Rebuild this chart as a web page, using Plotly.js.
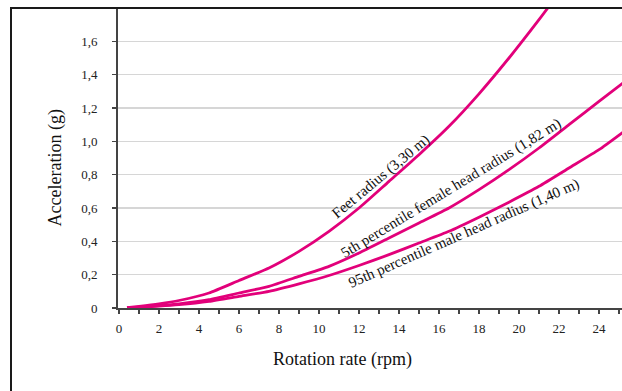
<!DOCTYPE html>
<html>
<head>
<meta charset="utf-8">
<script src="https://cdn.plot.ly/plotly-3.0.1.min.js"></script>
<style>html,body{margin:0;padding:0;background:#fff;}#chart{width:622px;height:391px;}</style>
</head>
<body>
<div id="chart"></div>
<script>
// Data
const rpmFeet = [0.4, 1, 2, 3, 4.5, 6, 7.5, 9, 10.5, 12, 13.5, 15, 16.5, 18, 19.5, 21, 21.5];
const accFeet = [0.002, 0.01, 0.025, 0.045, 0.09, 0.165, 0.24, 0.34, 0.46, 0.60, 0.76, 0.92, 1.09, 1.285, 1.50, 1.73, 1.81];

const rpmHead = [0.4, 1, 2, 3, 4.5, 6, 7.5, 9, 10.5, 12, 13.5, 15, 16.5, 18, 19.5, 21, 22.5, 24, 25.2];
const accFemale = [0.001, 0.005, 0.014, 0.025, 0.05, 0.09, 0.13, 0.19, 0.25, 0.33, 0.42, 0.51, 0.60, 0.71, 0.83, 0.96, 1.10, 1.24, 1.35];
const accMale = [0.001, 0.004, 0.011, 0.02, 0.04, 0.07, 0.10, 0.145, 0.195, 0.255, 0.32, 0.39, 0.46, 0.545, 0.635, 0.73, 0.84, 0.95, 1.055];

const seriesLabels = ['Feet radius (3,30 m)', '5th percentile female head radius (1,82 m)', '95th percentile male head radius (1,40 m)'];

const xTickVals = [0, 2, 4, 6, 8, 10, 12, 14, 16, 18, 20, 22, 24];
const xTickText = ['0', '2', '4', '6', '8', '10', '12', '14', '16', '18', '20', '22', '24'];
const yTickVals = [0, 0.2, 0.4, 0.6, 0.8, 1.0, 1.2, 1.4, 1.6];
const yTickText = ['0', '0,2', '0,4', '0,6', '0,8', '1,0', '1,2', '1,4', '1,6'];

const xTitle = 'Rotation rate (rpm)';
const yTitle = 'Acceleration (g)';

const lineColor = '#e2007a';
const serif = 'Liberation Serif, Times New Roman, serif';

const mk = (x, y, name) => ({
  x: x, y: y, name: name, type: 'scatter', mode: 'lines',
  line: {color: lineColor, width: 2.8, shape: 'spline', smoothing: 0.5},
  hoverinfo: 'skip', cliponaxis: true
});

const data = [
  mk(rpmFeet, accFeet, seriesLabels[0]),
  mk(rpmHead, accFemale, seriesLabels[1]),
  mk(rpmHead, accMale, seriesLabels[2])
];

const layout = {
  width: 622, height: 391,
  margin: {l: 118, r: 0, t: 8, b: 83, pad: 0},
  paper_bgcolor: '#ffffff', plot_bgcolor: '#ffffff',
  showlegend: false,
  font: {family: serif, size: 13, color: '#222'},
  xaxis: {
    range: [-0.05, 25.15], fixedrange: true,
    tickmode: 'array', tickvals: xTickVals, ticktext: xTickText,
    ticks: 'outside', ticklen: 4, tickwidth: 1.5, tickcolor: '#444',
    minor: {tickmode: 'linear', tick0: 0, dtick: 1, ticks: 'outside', ticklen: 4, tickwidth: 1.5, tickcolor: '#444', showgrid: false},
    showline: true, linecolor: '#444', linewidth: 2,
    showgrid: false, zeroline: false,
    tickfont: {family: serif, size: 13, color: '#222'},
    ticklabelstandoff: 3
  },
  yaxis: {
    range: [0, 1.8], fixedrange: true,
    tickmode: 'array', tickvals: yTickVals, ticktext: yTickText,
    ticks: 'outside', ticklen: 4, tickwidth: 1.5, tickcolor: '#444',
    showline: true, linecolor: '#444', linewidth: 2,
    showgrid: true, gridcolor: '#d6d6d6', gridwidth: 1.5,
    zeroline: false,
    tickfont: {family: serif, size: 13, color: '#222'},
    ticklabelstandoff: 12
  },
  shapes: [
    {type: 'rect', xref: 'paper', yref: 'paper', x0: -0.2123, x1: 1.3, y0: -0.6, y1: 1.0,
     line: {color: '#1a1a1a', width: 2}, fillcolor: 'rgba(0,0,0,0)', layer: 'above'}
  ],
  annotations: [
    {xref: 'paper', yref: 'paper', x: 0.4464, y: -0.1733, text: xTitle, showarrow: false,
     xanchor: 'center', yanchor: 'middle', font: {family: serif, size: 18, color: '#111'}},
    {xref: 'paper', yref: 'paper', x: -0.125, y: 0.465, text: yTitle, showarrow: false, textangle: -90,
     xanchor: 'center', yanchor: 'middle', font: {family: serif, size: 18, color: '#111'}},
    {xref: 'x', yref: 'y', x: 13.1, y: 0.79, text: seriesLabels[0], showarrow: false, textangle: -39.7,
     xanchor: 'center', yanchor: 'middle', font: {family: serif, size: 15, color: '#111'}},
    {xref: 'x', yref: 'y', x: 16.6, y: 0.716, text: seriesLabels[1], showarrow: false, textangle: -31.3,
     xanchor: 'center', yanchor: 'middle', font: {family: serif, size: 15, color: '#111'}},
    {xref: 'x', yref: 'y', x: 17.25, y: 0.445, text: seriesLabels[2], showarrow: false, textangle: -23.7,
     xanchor: 'center', yanchor: 'middle', font: {family: serif, size: 15, color: '#111'}}
  ]
};

Plotly.newPlot('chart', data, layout, {staticPlot: true, displayModeBar: false});
</script>
</body>
</html>
